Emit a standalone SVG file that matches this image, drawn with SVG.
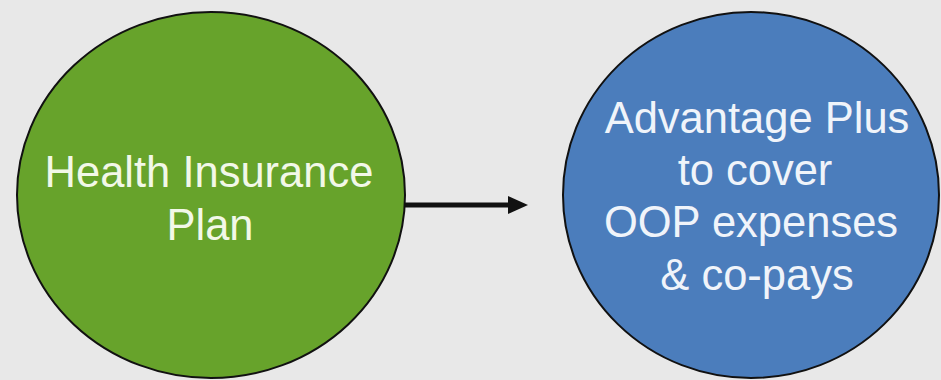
<svg xmlns="http://www.w3.org/2000/svg" width="941" height="380" viewBox="0 0 941 380">
  <style>
    .node { stroke: #111; stroke-width: 2; }
    .label { font-family: "Liberation Sans", Arial, Helvetica, sans-serif; font-size: 43.5px; text-anchor: middle; }
    .g-label { fill: #f2f8e8; }
    .b-label { fill: #f0f4fa; }
    .conn { stroke: #111; stroke-width: 5; fill: none; }
  </style>
  <defs>
    <marker id="arrow" markerUnits="userSpaceOnUse" markerWidth="20" markerHeight="18" refX="0" refY="9" orient="auto">
      <path d="M0,0 L20,9 L0,18 Z" fill="#111"/>
    </marker>
  </defs>
  <rect width="941" height="380" fill="#e8e8e8"/>
  <g id="connectors">
    <line class="conn" x1="405" y1="205" x2="508" y2="205" marker-end="url(#arrow)"/>
  </g>
  <g id="health-plan">
    <ellipse class="node" cx="211" cy="195" rx="194" ry="183" fill="#67a32b"/>
    <text class="label g-label" x="209" y="187">Health Insurance</text>
    <text class="label g-label" x="210" y="240">Plan</text>
  </g>
  <g id="advantage-plus">
    <ellipse class="node" cx="751" cy="195" rx="188" ry="183" fill="#4b7dbc"/>
    <text class="label b-label" x="757" y="133">Advantage Plus</text>
    <text class="label b-label" x="755" y="185">to cover</text>
    <text class="label b-label" x="751" y="237">OOP expenses</text>
    <text class="label b-label" x="757" y="290">&amp; co-pays</text>
  </g>
</svg>
